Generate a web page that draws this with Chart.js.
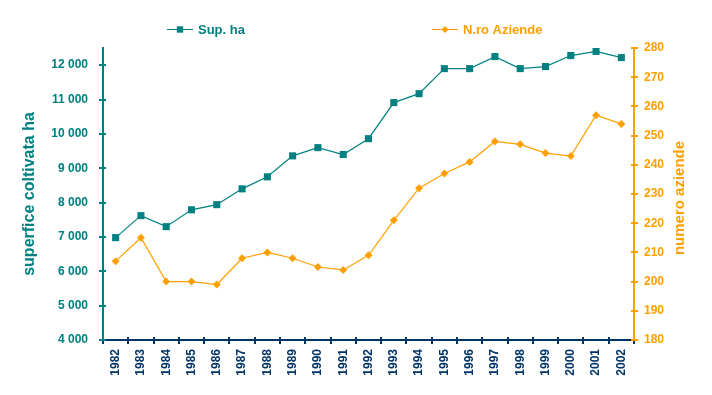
<!DOCTYPE html>
<html>
<head>
<meta charset="utf-8">
<script src="https://cdn.jsdelivr.net/npm/chart.js@4.4.1/dist/chart.umd.min.js"></script>
<style>
  html, body { margin: 0; padding: 0; background: #fff; }
  #wrap { width: 712px; height: 395px; position: relative; }
</style>
</head>
<body>
<div id="wrap"><canvas id="chart"></canvas></div>
<script>
const TEAL = '#008080';
const ORANGE = '#FFA000';
const NAVY = '#003366';
const FONT = "'Liberation Sans', Arial, sans-serif";

const years = ['1982', '1983', '1984', '1985', '1986', '1987', '1988', '1989', '1990', '1991', '1992',
  '1993', '1994', '1995', '1996', '1997', '1998', '1999', '2000', '2001', '2002'];
const supHa = [6980, 7620, 7300, 7790, 7940, 8400, 8750, 9360, 9600, 9400, 9860,
  10910, 11170, 11900, 11900, 12250, 11900, 11960, 12280, 12400, 12220];
const nAziende = [207, 215, 200, 200, 199, 208, 210, 208, 205, 204, 209,
  221, 232, 237, 241, 248, 247, 244, 243, 257, 254];
const supTicks = [4000, 5000, 6000, 7000, 8000, 9000, 10000, 11000, 12000];
const aziendeTicks = [180, 190, 200, 210, 220, 230, 240, 250, 260, 270, 280];

const fmtSpace = (v) => String(v).replace(/\B(?=(\d{3})+(?!\d))/g, ' ');

// legend, right-hand title and the inner half of the cross tick marks
const decorPlugin = {
  id: 'decor',
  afterDraw(chart) {
    const ctx = chart.ctx;
    const { x, y, y1 } = chart.scales;
    ctx.save();

    // inner tick stubs
    ctx.lineWidth = 2;
    ctx.strokeStyle = TEAL;
    supTicks.forEach(v => {
      const py = Math.round(y.getPixelForValue(v));
      ctx.beginPath(); ctx.moveTo(y.right, py); ctx.lineTo(y.right + 3, py); ctx.stroke();
    });
    ctx.strokeStyle = ORANGE;
    aziendeTicks.forEach(v => {
      const py = Math.round(y1.getPixelForValue(v));
      ctx.beginPath(); ctx.moveTo(y1.left - 3, py); ctx.lineTo(y1.left, py); ctx.stroke();
    });
    ctx.strokeStyle = NAVY;
    const step = x.width / years.length;
    for (let i = 1; i < years.length; i++) {
      const px = Math.round(x.left + i * step);
      ctx.beginPath(); ctx.moveTo(px, x.top - 3); ctx.lineTo(px, x.top); ctx.stroke();
    }

    // legend
    const items = [
      { x: 167, text: 'Sup. ha', color: TEAL, style: 'rect' },
      { x: 432, text: 'N.ro Aziende', color: ORANGE, style: 'rectRot' }
    ];
    const ly = 29;
    items.forEach(it => {
      ctx.strokeStyle = it.color;
      ctx.lineWidth = 1;
      ctx.beginPath();
      ctx.moveTo(it.x, ly + 0.5);
      ctx.lineTo(it.x + 26, ly + 0.5);
      ctx.stroke();
      ctx.fillStyle = it.color;
      Chart.helpers.drawPoint(ctx, { pointStyle: it.style, radius: it.style === 'rect' ? 4.5 : 3.5, borderWidth: 0 }, it.x + 13, ly + 0.5);
      ctx.font = `bold 13px ${FONT}`;
      ctx.textBaseline = 'middle';
      ctx.textAlign = 'left';
      ctx.fillText(it.text, it.x + 31, ly + 1);
    });

    // right title reads bottom-up like the left one
    ctx.translate(680, 198);
    ctx.rotate(-Math.PI / 2);
    ctx.fillStyle = ORANGE;
    ctx.font = `bold 15px ${FONT}`;
    ctx.textAlign = 'center';
    ctx.textBaseline = 'middle';
    ctx.fillText('numero aziende', 0, 0);
    ctx.restore();
  }
};

new Chart(document.getElementById('chart'), {
  type: 'line',
  data: {
    labels: years,
    datasets: [{
      label: 'Sup. ha',
      data: supHa,
      yAxisID: 'y',
      borderColor: TEAL,
      backgroundColor: TEAL,
      borderWidth: 1.2,
      pointStyle: 'rect',
      pointRadius: 5,
      pointBorderWidth: 0,
      tension: 0
    }, {
      label: 'N.ro Aziende',
      data: nAziende,
      yAxisID: 'y1',
      borderColor: ORANGE,
      backgroundColor: ORANGE,
      borderWidth: 1.2,
      pointStyle: 'rectRot',
      pointRadius: 4,
      pointBorderWidth: 0,
      tension: 0
    }]
  },
  options: {
    responsive: true,
    maintainAspectRatio: false,
    animation: false,
    layout: { padding: { top: 48, left: 0, right: 0, bottom: 0 } },
    plugins: { legend: { display: false }, tooltip: { enabled: false } },
    scales: {
      x: {
        offset: true,
        afterFit: (s) => { s.height = 55; },
        grid: { drawOnChartArea: false, offset: true, color: NAVY, lineWidth: 2, tickLength: 4 },
        border: { color: NAVY, width: 2 },
        ticks: {
          color: NAVY, minRotation: 90, maxRotation: 90, padding: 5, autoSkip: false,
          font: { family: FONT, size: 12, weight: 'bold' }
        }
      },
      y: {
        position: 'left',
        min: 4000, max: 12500,
        afterFit: (s) => { s.width = 103; },
        afterBuildTicks: (s) => { s.ticks = supTicks.map(v => ({ value: v })); },
        grid: { drawOnChartArea: false, color: TEAL, lineWidth: 2, tickLength: 4 },
        border: { color: TEAL, width: 2 },
        ticks: {
          color: TEAL, padding: 11,
          font: { family: FONT, size: 12, weight: 'bold' },
          callback: (v) => fmtSpace(v)
        },
        title: {
          display: true, text: 'superfice coltivata ha', color: TEAL,
          font: { family: FONT, size: 16, weight: 'bold' },
          padding: { top: 20, bottom: 0 }
        }
      },
      y1: {
        position: 'right',
        min: 180, max: 280,
        afterFit: (s) => { s.width = 78; },
        afterBuildTicks: (s) => { s.ticks = aziendeTicks.map(v => ({ value: v })); },
        grid: { drawOnChartArea: false, color: ORANGE, lineWidth: 2, tickLength: 4 },
        border: { color: ORANGE, width: 2 },
        ticks: {
          color: ORANGE, padding: 6,
          font: { family: FONT, size: 12, weight: 'bold' }
        }
      }
    }
  },
  plugins: [decorPlugin]
});
</script>
</body>
</html>
